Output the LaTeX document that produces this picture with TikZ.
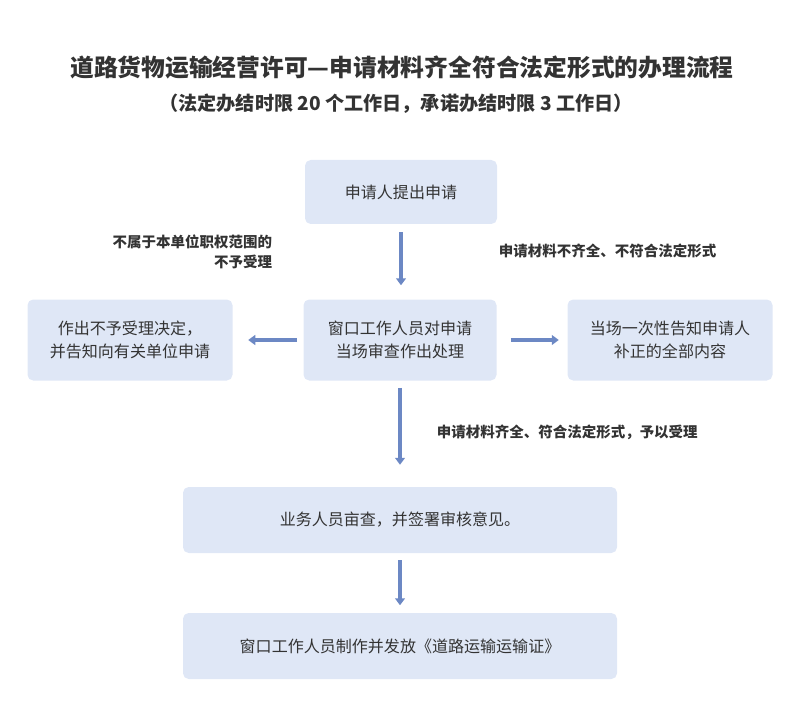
\documentclass[tikz,border=0pt]{standalone}
\usepackage{fontspec}
\setmainfont{Noto Sans CJK SC}
\usetikzlibrary{positioning,arrows.meta}
\definecolor{boxfill}{HTML}{DFE7F6}
\definecolor{arrowblue}{HTML}{6C88C4}
\definecolor{txt}{HTML}{333333}
\tikzset{
  stepbox/.style={fill=boxfill, rounded corners=4pt, text=txt, align=center, font=\fontsize{11.4}{16}\selectfont, inner sep=0pt},
  flow/.style={arrowblue, line width=2.2pt, -{Triangle[length=5pt,width=7pt]}},
  note/.style={text=txt, font=\bfseries\fontsize{10.3}{14.5}\selectfont}
}
\begin{document}
\begin{tikzpicture}[x=0.025cm,y=-0.025cm]
  \useasboundingbox (0,0) rectangle (800,721);

  \node[text=txt, font=\bfseries\fontsize{16.9}{20}\selectfont] (title) at (402,67) {道路货物运输经营许可—申请材料齐全符合法定形式的办理流程};
  \node[text=txt, font=\bfseries\fontsize{13.6}{16}\selectfont] (sub) at (396,104) {（法定办结时限 20 个工作日，承诺办结时限 3 工作日）};

  \node[stepbox, minimum width=192*0.025cm, minimum height=64*0.025cm] (apply) at (401,192) {申请人提出申请};
  \node[stepbox, minimum width=193*0.025cm, minimum height=81*0.025cm] (window) at (400,340) {窗口工作人员对申请\\当场审查作出处理};
  \node[stepbox, minimum width=205*0.025cm, minimum height=81*0.025cm] (reject) at (130,340) {作出不予受理决定，\\并告知向有关单位申请};
  \node[stepbox, minimum width=205*0.025cm, minimum height=81*0.025cm] (supply) at (670,340) {当场一次性告知申请人\\补正的全部内容};
  \node[stepbox, minimum width=434*0.025cm, minimum height=66*0.025cm] (review) at (400,520) {业务人员亩查，并签署审核意见。};
  \node[stepbox, minimum width=434*0.025cm, minimum height=66*0.025cm] (issue) at (400,646) {窗口工作人员制作并发放《道路运输运输证》};

  \draw[flow] (apply.south) ++(0,8) -- ++(0,53);
  \draw[flow] (window.west) ++(-6,0) -- ++(-49,0);
  \draw[flow] (window.east) ++(14,0) -- ++(48,0);
  \draw[flow] (window.south) ++(0,7) -- ++(0,77);
  \draw[flow] (review.south) ++(0,7) -- ++(0,45);

  \node[note, align=right, anchor=east] (lblreject) at (277,252) {不属于本单位职权范围的\\不予受理};
  \node[note, anchor=west] (lblsupply) at (494,251) {申请材料不齐全、不符合法定形式};
  \node[note, anchor=west] (lblaccept) at (432,432) {申请材料齐全、符合法定形式，予以受理};
\end{tikzpicture}
\end{document}
